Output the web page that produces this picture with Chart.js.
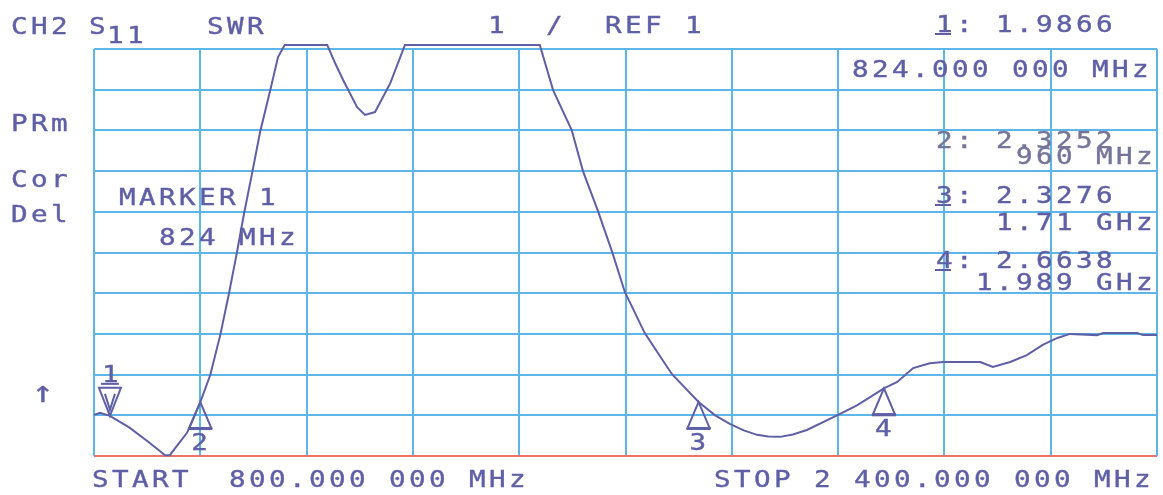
<!DOCTYPE html>
<html lang="en">
<head>
<meta charset="UTF-8">
<title>CH2 S11 SWR</title>
<script src="https://cdn.jsdelivr.net/npm/chart.js"></script>
<style>
  body { margin: 0; background: #fff; }
</style>
</head>
<body>
<canvas id="swrChart" width="1163" height="495"></canvas>
<script>
// sweep 800 .. 2400 MHz, SWR 1 / div, REF 1 on the bottom line
const freqMHz = [800, 809, 824, 854, 884, 907, 914, 940, 960, 975, 990, 1003, 1015, 1026, 1038, 1050, 1065, 1077, 1087,
                 1151, 1163, 1175, 1196, 1208, 1223, 1246, 1268, 1471, 1491, 1519, 1536, 1559, 1580, 1599, 1629, 1650,
                 1670, 1710, 1735, 1757, 1778, 1798, 1815, 1833, 1852, 1873, 1920, 1949, 1989, 2009, 2033, 2058, 2078,
                 2134, 2153, 2179, 2204, 2228, 2250, 2269, 2310, 2319, 2370, 2379, 2400];
const swr = [2.01, 2.06, 1.9866, 1.69, 1.32, 1.02, 1.02, 1.57, 2.3252, 2.99, 3.97, 4.98, 5.99, 6.97, 7.95, 8.96, 9.97, 10.8, 11.1,
             11.1, 10.65, 10.24, 9.57, 9.38, 9.45, 10.16, 11.1, 11.1, 9.99, 9.01, 8.0, 7.0, 6.01, 5.03, 4.02, 3.5,
             3.01, 2.3276, 2.0, 1.79, 1.63, 1.52, 1.48, 1.47, 1.53, 1.64, 2.01, 2.25, 2.6638, 2.82, 3.16, 3.28, 3.31,
             3.31, 3.19, 3.31, 3.48, 3.73, 3.90, 4.00, 3.97, 4.02, 4.02, 3.97, 3.97];

// markers
const markerNo = ['1', '2', '3', '4'];
const markerMHz = [824, 960, 1710, 1989];
const markerSwr = [1.9866, 2.3252, 2.3276, 2.6638];
const markerValText = ['1.9866', '2.3252', '2.3276', '2.6638'];
const markerFreqText = ['824.000 000 MHz', '960 MHz', '1.71 GHz', '1.989 GHz'];

const startText = '800.000 000 MHz';
const stopText = '2 400.000 000 MHz';

const INK = '#5f5fa6';
const GRID = '#5cb6ea';
const RED = '#e8736c';

// plotter style: wide glyphs on a fixed 20px pitch
function mono(ctx, str, x, y, color, size) {
    ctx.save();
    ctx.fillStyle = color || INK;
    ctx.strokeStyle = color || INK;
    ctx.lineWidth = 0.4;
    ctx.font = (size || 23) + 'px "DejaVu Sans Mono"';
    ctx.textBaseline = 'alphabetic';
    ctx.textAlign = 'left';
    for (let i = 0; i < str.length; i++) {
        ctx.save();
        ctx.translate(x + i * 20 - 1, y);
        ctx.scale(1.2, 1);
        ctx.fillText(str[i], 0, 0);
        ctx.strokeText(str[i], 0, 0);
        ctx.restore();
    }
    ctx.restore();
}

const annotations = {
    id: 'annotations',
    afterDatasetsDraw(chart) {
        const ctx = chart.ctx;
        const xs = chart.scales.x, ys = chart.scales.y;
        ctx.save();
        ctx.strokeStyle = INK;
        ctx.lineWidth = 2;
        markerMHz.forEach((f, i) => {
            const x = xs.getPixelForValue(f);
            const y = ys.getPixelForValue(markerSwr[i]);
            ctx.beginPath();
            if (i === 0) {
                // active marker: pointing down, above the trace
                ctx.moveTo(x, y);
                ctx.lineTo(x - 11, y - 28);
                ctx.lineTo(x + 11, y - 28);
                ctx.closePath();
                ctx.stroke();
                ctx.beginPath();
                ctx.moveTo(x - 5, y - 22);
                ctx.lineTo(x, y - 6);
                ctx.lineTo(x + 5, y - 22);
                ctx.stroke();
                mono(ctx, markerNo[i], x - 7, y - 34);
                ctx.fillStyle = INK;
                ctx.fillRect(x - 9, y - 33, 18, 2);
            } else {
                ctx.moveTo(x, y);
                ctx.lineTo(x - 11, y + 26);
                ctx.lineTo(x + 11, y + 26);
                ctx.closePath();
                ctx.stroke();
                ctx.fillStyle = INK;
                ctx.fillRect(x - 12, y + 25, 24, 3);
                mono(ctx, markerNo[i], x - 8, y + 48);
            }
        });
        ctx.restore();
    },
    afterDraw(chart) {
        const ctx = chart.ctx;
        mono(ctx, 'CH2', 12, 34);
        mono(ctx, 'S', 90, 34);
        mono(ctx, '11', 108, 43);
        mono(ctx, 'SWR', 208, 34);
        mono(ctx, '1', 489, 33);
        mono(ctx, '/', 547, 33);
        mono(ctx, 'REF 1', 606, 33);
        mono(ctx, 'PRm', 12, 131);
        mono(ctx, 'Cor', 12, 187);
        mono(ctx, 'Del', 12, 222);
        mono(ctx, 'MARKER 1', 120, 205);
        mono(ctx, '824 MHz', 160, 245);
        mono(ctx, '\u2191', 33, 402, INK, 30);
        mono(ctx, 'START', 93, 487);
        mono(ctx, startText, 230, 487);
        mono(ctx, 'STOP ' + stopText, 715, 487);

        // marker readouts, right side
        const rows = [[32, 77, 853], [148, 164, 1017], [203, 230, 997], [268, 290, 977]];
        rows.forEach((r, i) => {
            mono(ctx, markerNo[i] + ': ' + markerValText[i], 937, r[0], i === 1 ? '#75759a' : INK);
            if (i !== 1) {
                ctx.fillStyle = INK;
                ctx.fillRect(935, r[0] + 1, 16, 2);
            }
            mono(ctx, markerFreqText[i], r[2], r[1], i === 1 ? '#75759a' : INK);
        });
    }
};

const ctx = document.querySelector('#swrChart');

const swrChart = new Chart(ctx, {
    type: 'line',
    data: {
        datasets: [{
            data: freqMHz.map((f, i) => ({ x: f, y: swr[i] })),
            borderColor: INK,
            borderWidth: 2,
            pointRadius: 0,
            tension: 0,
            clip: false
        }]
    },
    options: {
        responsive: false,
        animation: false,
        events: [],
        layout: { padding: { left: 94, right: 6, top: 49, bottom: 39 } },
        plugins: { legend: { display: false }, tooltip: { enabled: false } },
        scales: {
            x: {
                type: 'linear',
                min: 800,
                max: 2400,
                ticks: { display: false, stepSize: 160 },
                border: { display: false },
                grid: { color: GRID, lineWidth: 2, drawTicks: false }
            },
            y: {
                min: 1,
                max: 11,
                ticks: { display: false, stepSize: 1 },
                border: { display: false },
                grid: {
                    color: c => (c.tick && c.tick.value === 1) ? RED : GRID,
                    lineWidth: 2,
                    drawTicks: false
                }
            }
        }
    },
    plugins: [annotations]
});
</script>
</body>
</html>
